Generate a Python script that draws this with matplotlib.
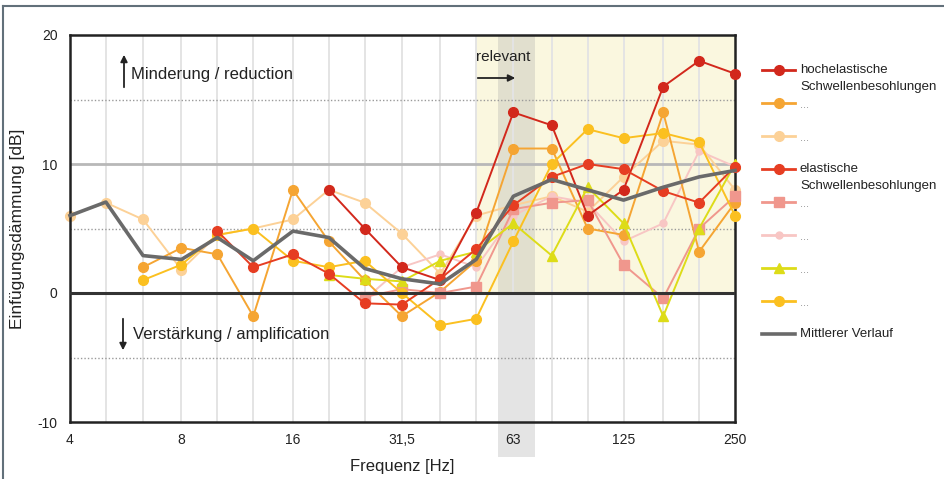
import numpy as np
import matplotlib.pyplot as plt
from matplotlib.lines import Line2D
from matplotlib.patches import Rectangle
import matplotlib.transforms as mtransforms
from matplotlib.ticker import NullLocator

plt.rcParams['font.family'] = ['Liberation Sans', 'DejaVu Sans']
plt.rcParams['axes.unicode_minus'] = False

nan = np.nan

# third-octave bands
freqs = [4, 5, 6.3, 8, 10, 12.5, 16, 20, 25, 31.5, 40, 50, 63, 80, 100, 125, 160, 200, 250]
tick_freqs = [4, 8, 16, 31.5, 63, 125, 250]
tick_labels = ['4', '8', '16', '31,5', '63', '125', '250']

# insertion loss per band [dB]
hochelastisch = [nan, nan, nan, nan, nan, nan, nan, 8.0, 5.0, 2.0, 1.0, 6.2,
                 14.0, 13.0, 6.0, 8.0, 16.0, 18.0, 17.0]
orange_2 = [nan, nan, 2.0, 3.5, 3.0, -1.8, 8.0, 4.0, 1.0, -1.8, 0.1, 2.5,
            11.2, 11.2, 5.0, 4.5, 14.0, 3.2, 7.0]
peach_3 = [6.0, 7.0, 5.7, 1.8, 4.5, 5.0, 5.7, 8.0, 7.0, 4.6, 1.5, 6.0,
           6.8, 7.5, 6.3, 9.0, 11.8, 11.5, 8.0]
elastisch = [nan, nan, nan, nan, 4.8, 2.0, 3.0, 1.5, -0.8, -0.9, 1.1, 3.4,
             6.8, 9.0, 10.0, 9.6, 7.9, 7.0, 9.8]
salmon_5 = [nan, nan, nan, nan, nan, nan, nan, nan, -0.3, 0.3, 0.0, 0.5,
            6.5, 7.0, 7.2, 2.2, -0.4, 5.0, 7.5]
pink_6 = [nan, nan, nan, nan, nan, nan, nan, nan, -0.5, 2.0, 3.0, 2.0,
          6.0, 7.5, 7.0, 4.0, 5.4, 11.0, 9.8]
lime_7 = [nan, nan, nan, nan, nan, nan, nan, 1.4, 1.1, 0.9, 2.5, 3.2,
          5.4, 2.9, 8.2, 5.4, -1.8, 5.0, 10.0]
yellow_8 = [nan, nan, 1.0, 2.2, 4.5, 5.0, 2.5, 2.0, 2.5, 0.0, -2.5, -2.0,
            4.0, 10.0, 12.7, 12.0, 12.4, 11.7, 6.0]
mittel = [6.0, 7.05, 2.9, 2.6, 4.3, 2.5, 4.8, 4.3, 1.9, 1.1, 0.7, 2.6,
          7.5, 8.8, 8.0, 7.2, 8.2, 9.0, 9.5]

labels = ['hochelastische\nSchwellenbesohlungen', '...', '...',
          'elastische\nSchwellenbesohlungen', '...', '...', '...', '...',
          'Mittlerer Verlauf']

series = [
    (hochelastisch, '#d2281c', 'o', 7, 4),
    (orange_2, '#f5a533', 'o', 7, 3),
    (peach_3, '#fcd197', 'o', 7, 2),
    (elastisch, '#e63d22', 'o', 7, 4),
    (salmon_5, '#f0978d', 's', 6.5, 3),
    (pink_6, '#f8c6c4', 'o', 5, 2),
    (lime_7, '#dddc18', '^', 6.5, 3),
    (yellow_8, '#fbc020', 'o', 7, 3),
]
mean_color = '#6a6a6a'

W, H = 944, 479
def fx(px):
    return px / W
def fy(py):
    return 1 - py / H

fig = plt.figure(figsize=(W / 100, H / 100), dpi=100)
ax = fig.add_axes([fx(70), fy(422), 665 / W, 387 / H])

ax.set_xscale('log', base=2)
ax.set_xlim(4, 250)
ax.set_ylim(-10, 20)

# background areas
ax.add_patch(Rectangle((50, 0), 200, 20, color='#faf7df', zorder=0, lw=0))
trans = mtransforms.blended_transform_factory(ax.transData, ax.transAxes)
ax.add_patch(Rectangle((57.4, -0.09), 71.9 - 57.4, 1.09, transform=trans,
                       color='#a8a8a8', alpha=0.3, lw=0, clip_on=False, zorder=0.5))

# grid
for f in freqs[1:-1]:
    ax.axvline(f, color='#e4e4e4', lw=1.4, zorder=1)
for yv in [15, 5, -5]:
    ax.axhline(yv, color='#9a9a9a', lw=1, ls=(0, (1, 1.5)), zorder=1)
ax.axhline(10, color='#b8b8b8', lw=2, zorder=1)
ax.axhline(0, color='#333333', lw=2.2, zorder=6)

for vals, c, m, ms, z in series:
    ax.plot(freqs, vals, color=c, marker=m, ms=ms, lw=1.4, zorder=z, clip_on=False)
ax.plot(freqs, mittel, color=mean_color, lw=2.6, zorder=8, clip_on=False)

ax.set_xticks(tick_freqs)
ax.set_xticklabels(tick_labels)
ax.xaxis.set_minor_locator(NullLocator())
ax.set_yticks([-10, 0, 10, 20])
ax.tick_params(length=0, labelsize=10, labelcolor='#222222')
ax.tick_params(axis='y', pad=9)
ax.tick_params(axis='x', pad=8)
for s in ax.spines.values():
    s.set_color('#222222')
    s.set_linewidth(1.8)

ax.set_xlabel('Frequenz [Hz]', fontsize=12, color='#222222')
ax.xaxis.set_label_coords(0.5, -0.095)
ax.set_ylabel('Einfügungsdämmung [dB]', fontsize=12.5, color='#222222')
ax.yaxis.set_label_coords(-0.068, 0.5)

# annotations
arrow = dict(arrowstyle='-|>', color='#222222', lw=1.3, mutation_scale=10)
fig.add_artist(plt.Annotation('', xy=(fx(124), fy(52)), xytext=(fx(124), fy(90)),
                              xycoords='figure fraction', arrowprops=arrow))
fig.text(fx(131), fy(74), 'Minderung / reduction', fontsize=12, va='center', color='#222222')
fig.add_artist(plt.Annotation('', xy=(fx(123), fy(353)), xytext=(fx(123), fy(316)),
                              xycoords='figure fraction', arrowprops=arrow))
fig.text(fx(133), fy(335), 'Verstärkung / amplification', fontsize=12, va='center', color='#222222')
fig.text(fx(476), fy(57), 'relevant', fontsize=11, va='center', color='#222222')
fig.add_artist(plt.Annotation('', xy=(fx(518), fy(78)), xytext=(fx(475), fy(78)),
                              xycoords='figure fraction', arrowprops=arrow))

# legend (fixed row pitch, second label line between rows)
for i, lab in enumerate(labels):
    yy = 70 + 33 * i
    if i < len(series):
        c, m, ms = series[i][1], series[i][2], series[i][3]
        fig.add_artist(Line2D([fx(762), fx(795)], [fy(yy), fy(yy)], color=c, lw=2))
        fig.add_artist(Line2D([fx(778.5)], [fy(yy)], color=c, marker=m, ms=ms, lw=0))
    else:
        fig.add_artist(Line2D([fx(762), fx(795)], [fy(yy), fy(yy)], color=mean_color, lw=2.6))
    parts = lab.split('\n')
    if lab == '...':
        fig.text(fx(800), fy(yy + 2), lab, fontsize=8, color='#8a8a8a', va='center')
    else:
        for j, p in enumerate(parts):
            fig.text(fx(800), fy(yy + 17 * j), p, fontsize=9.5, color='#222222', va='center')

# page frame
fig.add_artist(Line2D([fx(3), fx(3)], [fy(6), 0], color='#62707a', lw=1.5))
fig.add_artist(Line2D([fx(3), 1], [fy(6), fy(6)], color='#62707a', lw=1.5))

fig.savefig('out.png', dpi=100)
